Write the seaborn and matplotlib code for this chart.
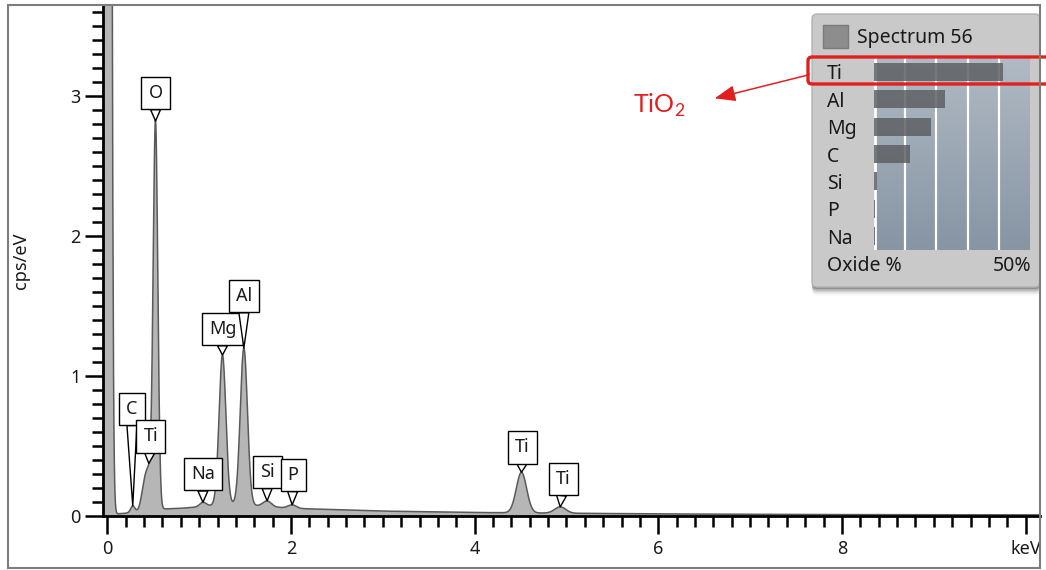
import numpy as np
import pandas as pd
import matplotlib
matplotlib.use("Agg")
import matplotlib.pyplot as plt
import matplotlib.transforms as mtransforms
from matplotlib.patches import FancyBboxPatch, Rectangle, FancyArrowPatch
import seaborn as sns

# ---------------------------------------------------------------- data
# labelled emission lines: energy (keV), height above continuum (cps/eV), width (keV)
line_labels = ["C", "Ti", "O", "Na", "Mg", "Al", "Si", "P", "Ti", "Ti"]
line_energy = [0.277, 0.452, 0.525, 1.041, 1.254, 1.487, 1.740, 2.013, 4.510, 4.932]
line_height = [0.045, 0.28, 2.72, 0.03, 1.07, 1.12, 0.04, 0.025, 0.29, 0.045]
line_sigma = [0.022, 0.042, 0.025, 0.035, 0.037, 0.039, 0.045, 0.045, 0.056, 0.060]

# unlabelled contributions: zero-energy strobe and Ti Ll
extra_energy = [0.0, 0.395]
extra_height = [40.0, 0.09]
extra_sigma = [0.025, 0.030]

# bremsstrahlung continuum (keV, cps/eV)
bg_energy = [-0.1, 0.1, 0.2, 0.4, 0.6, 0.8, 1.0, 1.2, 1.4, 1.6, 1.8, 2.0,
             2.5, 3.0, 3.5, 4.0, 5.0, 6.0, 7.0, 8.0, 9.0, 10.2]
bg_value = [0.0, 0.015, 0.02, 0.04, 0.05, 0.055, 0.065, 0.08, 0.085, 0.075, 0.065, 0.055,
            0.045, 0.035, 0.03, 0.025, 0.02, 0.015, 0.012, 0.01, 0.009, 0.008]

# quantification panel
quant_elements = ["Ti", "Al", "Mg", "C", "Si", "P", "Na"]
quant_oxide_pct = [41.3, 22.8, 18.3, 11.5, 1.0, 0.3, 0.3]
spectrum_name = "Spectrum 56"

x_ticks = [0, 2, 4, 6, 8, 10]
x_ticklabels = ["0", "2", "4", "6", "8", "keV"]
y_ticks = [0, 1, 2, 3]

# callout offsets from the peak tip to the label centre (pixels)
callout_offsets = [(-1, 97), (2, 27), (0, 28), (0, 28), (0, 26), (0, 52),
                   (0, 29), (1, 30), (1, 25), (3, 28)]

# ---------------------------------------------------------------- spectrum
energy = np.arange(-0.1, 10.25, 0.004)
counts = np.interp(energy, bg_energy, bg_value)
for e, h, s in zip(line_energy + extra_energy,
                   line_height + extra_height,
                   line_sigma + extra_sigma):
    counts = counts + h * np.exp(-0.5 * ((energy - e) / s) ** 2)
spec = pd.DataFrame({"energy": energy, "counts": counts})

# ---------------------------------------------------------------- style
sns.set_theme(style="ticks")
plt.rcParams["font.family"] = ["Noto Sans", "DejaVu Sans"]
plt.rcParams["mathtext.fontset"] = "custom"
plt.rcParams["mathtext.rm"] = "Lato"

W, H, DPI = 1046, 570, 100
PT = 72 / DPI
fig = plt.figure(figsize=(W / DPI, H / DPI), dpi=DPI)
fig.patch.set_facecolor("white")


def frac_box(x0, y0, x1, y1):
    return [x0 / W, 1 - y1 / H, (x1 - x0) / W, (y1 - y0) / H]


def dev(x, y):
    return (x, H - y)


ax = fig.add_axes(frac_box(103, 5, 1040, 516))
ax.set_zorder(0)
ax.fill_between(spec["energy"], 0, spec["counts"], color="#b6b6b6", lw=0, zorder=1)
sns.lineplot(data=spec, x="energy", y="counts", ax=ax, color="#5a5a5a", lw=1.1,
             zorder=2, estimator=None, sort=False)

x0_keV = -0.047
ax.set_xlim(x0_keV, x0_keV + 937 / 91.83)
ax.set_ylim(0, 511 / 140)
ax.set_xticks(x_ticks)
ax.set_xticklabels(x_ticklabels)
ax.set_yticks(y_ticks)
ax.set_xticks(np.arange(0, 10.2, 0.2), minor=True)
ax.set_yticks(np.arange(0, 3.65, 0.1), minor=True)
ax.tick_params(axis="both", which="major", direction="out", length=13, width=1.8,
               labelsize=13, color="black", labelcolor="#1a1a1a")
ax.tick_params(axis="both", which="minor", direction="out", length=8, width=1.8,
               color="black")
ax.tick_params(axis="x", which="major", pad=4)
ax.tick_params(axis="y", which="major", pad=3)
for side in ["top", "right"]:
    ax.spines[side].set_visible(False)
for side in ["left", "bottom"]:
    ax.spines[side].set_linewidth(2.0)
    ax.spines[side].set_color("black")
ax.set_xlabel("")
ax.set_ylabel("cps/eV", fontsize=13, color="#1a1a1a")
ax.yaxis.set_label_coords(-0.078, 0.5)

# element callouts
for lab, e, (dx, dy) in zip(line_labels, line_energy, callout_offsets):
    tip = np.interp(e, energy, counts)
    ax.annotate(lab, xy=(e, tip), xytext=(dx * PT, dy * PT), textcoords="offset points",
                ha="center", va="center", fontsize=13, zorder=5, color="#1a1a1a",
                bbox=dict(boxstyle="square,pad=0.4", fc="white", ec="black", lw=1),
                arrowprops=dict(arrowstyle="wedge,tail_width=0.55,shrink_factor=0.5",
                                fc="white", ec="black", lw=1, shrinkA=0, shrinkB=0))

# ---------------------------------------------------------------- quantification panel
ident = mtransforms.IdentityTransform()
for k, a in enumerate([0.28, 0.2, 0.13, 0.08, 0.04]):
    fig.add_artist(FancyBboxPatch(dev(812, 287 + 2 + 1.6 * k), 228, 272,
                                  boxstyle="round,pad=0,rounding_size=5",
                                  transform=ident, fc="#3a3a3a", ec="none", alpha=a,
                                  zorder=1))
fig.add_artist(FancyBboxPatch(dev(812, 287), 228, 273, boxstyle="round,pad=0,rounding_size=5",
                              transform=ident, fc="#c9c9c9", ec="#b3b3b3", lw=1, zorder=1.1))
fig.add_artist(Rectangle(dev(823, 48), 25, 23, transform=ident, fc="#8d8d8d",
                         ec="#7a7a7a", lw=1, zorder=1.2))
fig.text(857 / W, 1 - 38 / H, spectrum_name, fontsize=14, va="center", ha="left",
         color="#1a1a1a", zorder=3)

axq = fig.add_axes(frac_box(874, 58, 1030, 250))
axq.set_zorder(2)
axq.patch.set_alpha(0)
grad = np.linspace(0, 1, 64)[:, None]
panel_cmap = matplotlib.colors.LinearSegmentedColormap.from_list(
    "panel", ["#b0bac4", "#9ba7b3", "#8795a4"])
axq.imshow(grad, extent=(0, 50, len(quant_elements) - 0.5, -0.5), origin="upper",
           aspect="auto", cmap=panel_cmap, zorder=0)
for g in [10, 20, 30, 40]:
    axq.axvline(g, color="white", lw=1.6, zorder=0.5)
axq.axvline(0.2, color="white", lw=2, zorder=0.5)
quant = pd.DataFrame({"element": quant_elements, "pct": quant_oxide_pct})
sns.barplot(data=quant, x="pct", y="element", orient="h", color="#5e6064", alpha=0.85,
            width=0.66, ax=axq, zorder=1, saturation=1, linewidth=0, edgecolor="none")
axq.set_xlim(0, 50)
axq.set_ylim(len(quant_elements) - 0.5, -0.5)
axq.set_xlabel("")
axq.set_ylabel("")
axq.set_xticks([])
axq.set_yticks(range(len(quant_elements)))
axq.set_yticklabels(quant_elements, ha="left", fontsize=14, color="#1a1a1a")
axq.tick_params(axis="y", length=0, pad=47 * PT)
for s in axq.spines.values():
    s.set_visible(False)
fig.text(827 / W, 1 - 266 / H, "Oxide %", fontsize=14, va="center", ha="left",
         color="#1a1a1a", zorder=3)
fig.text(1031 / W, 1 - 266 / H, "50%", fontsize=14, va="center", ha="right",
         color="#1a1a1a", zorder=3)

# ---------------------------------------------------------------- TiO2 highlight
red = "#e11f1f"
fig.add_artist(FancyBboxPatch(dev(808, 84), 260, 27, boxstyle="round,pad=0,rounding_size=4",
                              transform=ident, fc="none", ec=red, lw=2.4, zorder=4))
fig.add_artist(FancyArrowPatch(dev(812, 74), dev(712, 99), transform=ident,
                               arrowstyle="-|>,head_length=0.9,head_width=0.35",
                               mutation_scale=14, color=red, lw=1.1, zorder=4))
fig.text(659 / W, 1 - 105 / H, r"TiO$_\mathregular{2}$", fontsize=18, color=red,
         family=["Lato", "DejaVu Sans"], ha="center", va="center", zorder=4)

# image border
fig.add_artist(Rectangle(dev(8, 568), 1032, 563, transform=ident, fc="none",
                         ec="#7d7d7d", lw=1.5, zorder=5))

fig.savefig("out.png", dpi=DPI)
